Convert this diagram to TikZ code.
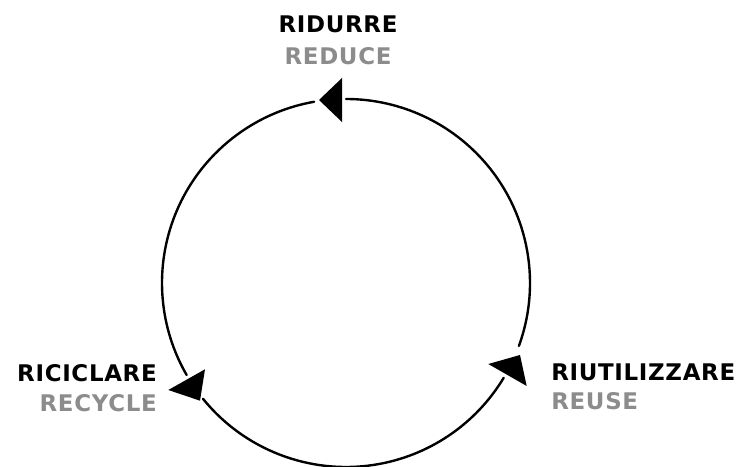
\documentclass[tikz,border=0pt]{standalone}
\usepackage{fontspec}
\usepackage{xcolor}
\usepackage{tikz}
\usetikzlibrary{positioning,calc}
\setmainfont{DejaVu Sans}[LetterSpace=3]
\definecolor{engrey}{RGB}{140,140,140}

\begin{document}
\begin{tikzpicture}[
    x=0.025cm, y=0.025cm,
    it/.style={
        inner sep=0pt,
        font=\fontsize{16.3pt}{19pt}\selectfont\bfseries,
        text=black
    },
    en/.style={
        it,
        text=engrey
    },
    ring/.style={line width=1.7pt, line cap=round},
    head/.style={fill=black, draw=none}
]
\useasboundingbox (0,0) rectangle (744,467);

\coordinate (c) at (346,184);

\node[it, anchor=base] (ridurre) at (338,434) {RIDURRE};
\node[en, anchor=base] (reduce) at (338,402) {REDUCE};
\node[it, anchor=base west] (riutilizzare) at (551,86) {RIUTILIZZARE};
\node[en, anchor=base west] (reuse) at (551,57) {REUSE};
\node[it, anchor=base east] (riciclare) at (157,85) {RICICLARE};
\node[en, anchor=base east] (recycle) at (157,55.5) {RECYCLE};

\draw[ring] ([shift={(-20:184)}]c) arc[start angle=-20, end angle=90, radius=184];
\draw[ring] ([shift={(100:184)}]c) arc[start angle=100, end angle=210, radius=184];
\draw[ring] ([shift={(219:184)}]c) arc[start angle=219, end angle=329, radius=184];

\fill[head] (319,367) -- (342,389) -- (342,345) -- cycle;
\fill[head] (168.3,77) -- (205,97.7) -- (200,66.3) -- cycle;
\fill[head] (488.3,103) -- (520,112) -- (526.7,81) -- cycle;
\end{tikzpicture}
\end{document}
